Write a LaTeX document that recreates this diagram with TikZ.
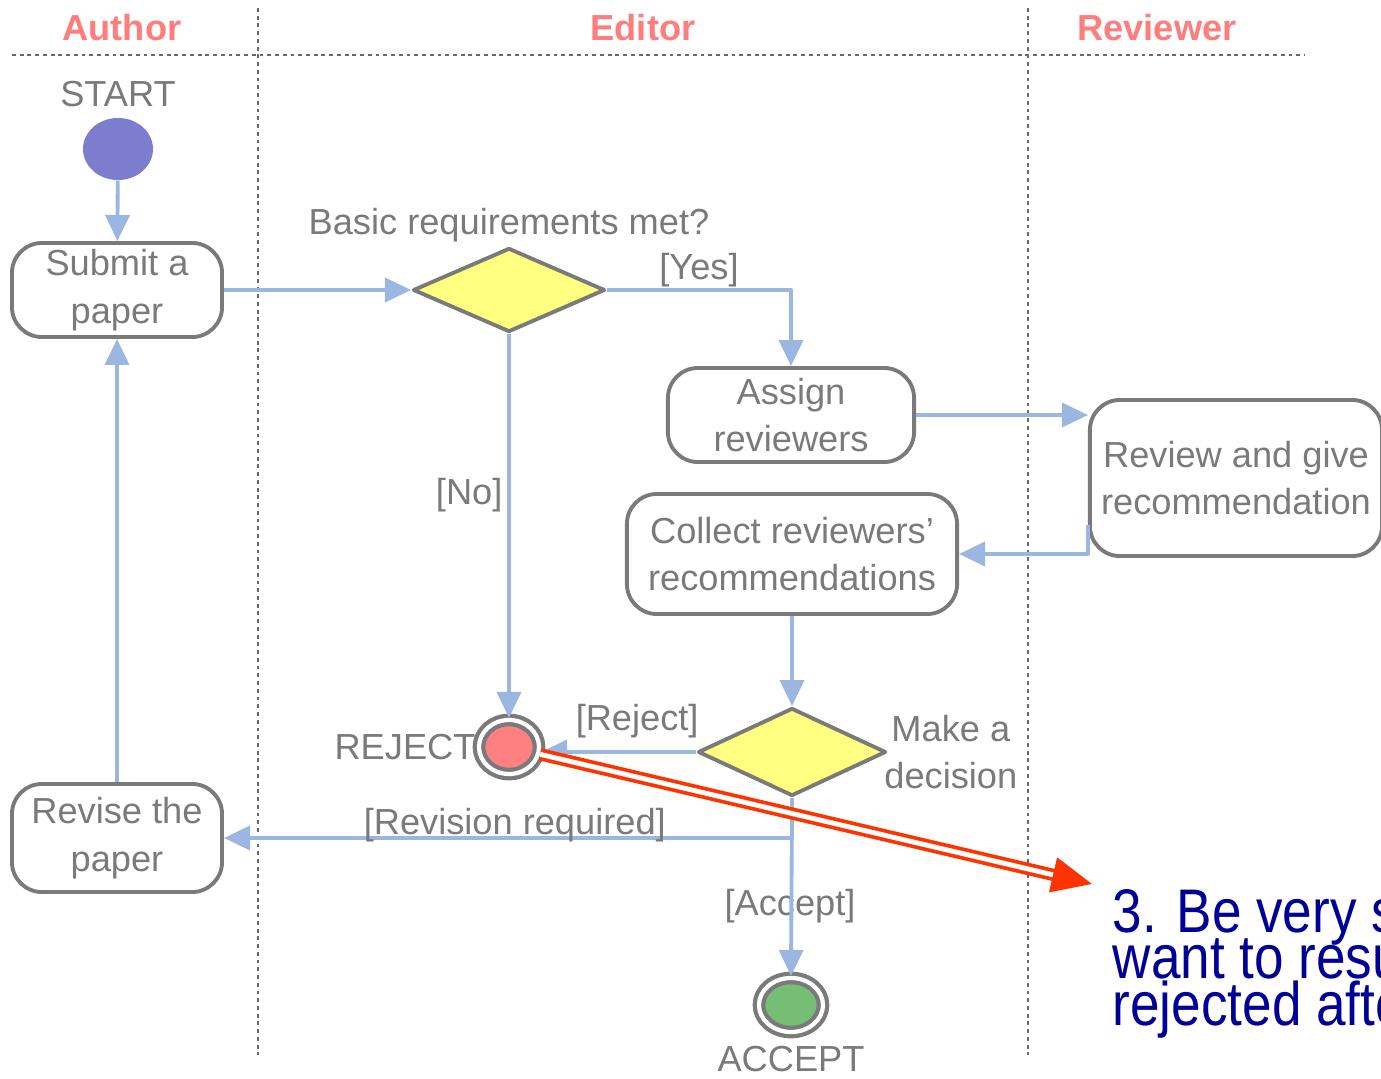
\documentclass[tikz,border=0pt]{standalone}
\usepackage{fontspec}
\setmainfont{Liberation Sans}
\usetikzlibrary{arrows.meta,shapes.geometric}
\definecolor{lanegray}{RGB}{105,105,105}
\definecolor{txtgray}{RGB}{122,122,122}
\definecolor{flowblue}{RGB}{156,182,226}
\definecolor{headred}{RGB}{255,125,125}
\definecolor{decyellow}{RGB}{255,255,128}
\definecolor{startblue}{RGB}{125,125,205}
\definecolor{rejred}{RGB}{255,128,128}
\definecolor{accgreen}{RGB}{118,190,118}
\definecolor{notered}{RGB}{255,51,0}
\definecolor{noteblue}{RGB}{0,0,153}
\begin{document}
\begin{tikzpicture}[x=0.01cm,y=-0.01cm,line join=round,font=\fontsize{10.3}{13.5}\selectfont,text=txtgray,
	lane/.style={lanegray,line width=0.6pt,dash pattern=on 1.1pt off 1.1pt},
	head/.style={text=headred,font=\fontsize{10.3}{13.5}\selectfont\bfseries},
	act/.style={draw=txtgray,line width=1.1pt,rounded corners=0.3cm,align=center,inner sep=0pt},
	dec/.style={diamond,draw=txtgray,line width=1.1pt,fill=decyellow,inner sep=0pt},
	final/.style={ellipse,draw=txtgray,line width=1.2pt,double=white,double distance=1.2pt,inner sep=0pt},
	flow/.style={color=flowblue,line width=1.1pt,-{Triangle[length=0.26cm,width=0.24cm]}},
	lbl/.style={text=txtgray},
	note/.style={color=notered,line width=1.05pt,double=white,double distance=1.4pt,-{Triangle[length=0.4cm,width=0.35cm,fill=notered]}}]
	\useasboundingbox (0,0) rectangle (1381,1079);
	\draw[lane] (12,55) -- (1305,55);
	\draw[lane] (258,8) -- (258,1055);
	\draw[lane] (1028,8) -- (1028,1055);
	\node[head] (author) at (122,28) {Author};
	\node[head] (editor) at (643,28) {Editor};
	\node[head] (reviewer) at (1157,28) {Reviewer};
	\node[ellipse,fill=startblue,minimum width=0.7cm,minimum height=0.62cm,label={[label distance=-0.02cm]above:START}] (start) at (118,149) {};
	\node[act,minimum width=2.1cm,minimum height=0.94cm] (submit) at (117,290) {Submit a\\paper};
	\node[dec,minimum width=1.92cm,minimum height=0.84cm,label={[label distance=-0.08cm]above:Basic requirements met?}] (basic) at (509,290) {};
	\node[act,minimum width=2.46cm,minimum height=0.94cm] (assign) at (791,415) {Assign\\reviewers};
	\node[act,minimum width=2.92cm,minimum height=1.56cm] (review) at (1236,478) {Review and give\\recommendation};
	\node[act,minimum width=3.3cm,minimum height=1.2cm] (collect) at (792,554) {Collect reviewers’\\recommendations};
	\node[dec,minimum width=1.88cm,minimum height=0.88cm,label={[label distance=-0.16cm,align=center]right:Make a\\decision}] (decide) at (792,752) {};
	\node[final,fill=rejred,minimum width=0.6cm,minimum height=0.54cm,label={[label distance=-0.11cm]left:REJECT}] (reject) at (509,747) {};
	\node[final,fill=accgreen,minimum width=0.64cm,minimum height=0.54cm,label={[label distance=0cm]below:ACCEPT}] (accept) at (791,1005) {};
	\node[act,minimum width=2.1cm,minimum height=1.08cm] (revise) at (117,838) {Revise the\\paper};
	\coordinate (tip) at (1092,884);
	\draw[flow] (start) -- (submit);
	\draw[flow] (submit) -- (basic);
	\draw[flow] (basic.east) -| node[lbl,pos=0.25,above=-3pt] {[Yes]} (assign.north);
	\draw[flow] (basic.south) -- node[lbl,pos=0.42,left=-2pt] {[No]} (reject.north);
	\draw[flow] (assign.east) -- (assign.east -| review.west);
	\draw[flow] ([yshift=-0.47cm]review.west) |- (collect.east);
	\draw[flow] (collect) -- (decide);
	\draw[flow] (decide.west) -- node[lbl,pos=0.38,above] {[Reject]} (decide.west -| reject.east);
	\draw[flow] (decide.south) |- node[lbl,pos=0.744,above=-5pt] {[Revision required]} (revise.east);
	\node[lbl] (acclbl) at (790,906) {[Accept]};
	\draw[flow] (decide.south) -- (accept.north);
	\draw[flow] (revise) -- (submit);
	\draw[note] (reject) -- (tip);
	\node[anchor=base west,inner sep=0pt,text=noteblue] (remark) at (1112,932) {\scalebox{1}[1.16]{\parbox[t]{9cm}{\fontsize{15.1}{11.5}\selectfont\lineskiplimit=-20pt 3. Be very sure you\\want to resubmit a paper\\rejected after review}}};
\end{tikzpicture}
\end{document}
